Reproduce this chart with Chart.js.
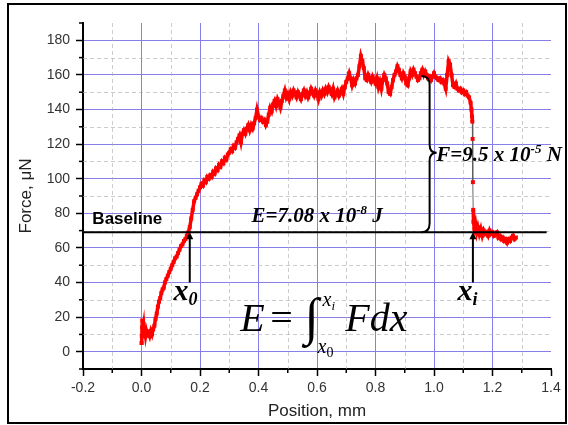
<!DOCTYPE html>
<html>
<head>
<meta charset="utf-8">
<script src="https://cdn.jsdelivr.net/npm/chart.js@4.4.1/dist/chart.umd.min.js"></script>
<style>
  html, body { margin: 0; padding: 0; background: #fff; }
  #wrap { width: 568px; height: 425px; }
</style>
</head>
<body>
<div id="wrap"><canvas id="forceChart" width="568" height="425"></canvas></div>
<script>
// Posición (mm) y fuerza (µN)
const positions = [
  0.000, 0.001, 0.002, 0.003, 0.005, 0.007, 0.009, 0.011, 0.014, 0.017,
  0.020, 0.024, 0.028, 0.032, 0.036, 0.040, 0.044, 0.048, 0.052, 0.056,
  0.060, 0.064, 0.068, 0.072, 0.076, 0.080, 0.085, 0.090, 0.095, 0.100,
  0.105, 0.110, 0.115, 0.120, 0.125, 0.130, 0.135, 0.140, 0.145, 0.150,
  0.155, 0.160, 0.165, 0.170, 0.175, 0.180, 0.185, 0.190, 0.195, 0.200,
  0.205, 0.210, 0.215, 0.220, 0.225, 0.230, 0.235, 0.240, 0.245, 0.250,
  0.255, 0.260, 0.265, 0.270, 0.275, 0.280, 0.285, 0.290, 0.295, 0.300,
  0.305, 0.310, 0.315, 0.320, 0.325, 0.330, 0.335, 0.340, 0.345, 0.350,
  0.355, 0.360, 0.365, 0.370, 0.375, 0.380, 0.385, 0.390, 0.395, 0.400,
  0.405, 0.410, 0.415, 0.420, 0.425, 0.430, 0.435, 0.440, 0.445, 0.450,
  0.455, 0.460, 0.465, 0.470, 0.475, 0.480, 0.485, 0.490, 0.495, 0.500,
  0.505, 0.510, 0.515, 0.520, 0.525, 0.530, 0.535, 0.540, 0.545, 0.550,
  0.555, 0.560, 0.565, 0.570, 0.575, 0.580, 0.585, 0.590, 0.595, 0.600,
  0.605, 0.610, 0.615, 0.620, 0.625, 0.630, 0.635, 0.640, 0.645, 0.650,
  0.655, 0.660, 0.665, 0.670, 0.675, 0.680, 0.685, 0.690, 0.695, 0.700,
  0.705, 0.710, 0.715, 0.720, 0.725, 0.730, 0.735, 0.740, 0.745, 0.750,
  0.755, 0.760, 0.765, 0.770, 0.775, 0.780, 0.785, 0.790, 0.795, 0.800,
  0.805, 0.810, 0.815, 0.820, 0.825, 0.830, 0.835, 0.840, 0.845, 0.850,
  0.855, 0.860, 0.865, 0.870, 0.875, 0.880, 0.885, 0.890, 0.895, 0.900,
  0.905, 0.910, 0.915, 0.920, 0.925, 0.930, 0.935, 0.940, 0.945, 0.950,
  0.955, 0.960, 0.965, 0.970, 0.975, 0.980, 0.985, 0.990, 0.995, 1.000,
  1.005, 1.010, 1.015, 1.020, 1.025, 1.030, 1.035, 1.040, 1.045, 1.050,
  1.055, 1.060, 1.065, 1.070, 1.075, 1.080, 1.085, 1.090, 1.095, 1.100,
  1.105, 1.110, 1.115, 1.120, 1.125, 1.128, 1.130, 1.131, 1.132, 1.133,
  1.134, 1.135, 1.138, 1.142, 1.146, 1.150, 1.155, 1.160, 1.165, 1.170,
  1.175, 1.180, 1.185, 1.190, 1.195, 1.200, 1.205, 1.210, 1.215, 1.220,
  1.225, 1.230, 1.235, 1.240, 1.245, 1.250, 1.255, 1.260, 1.265, 1.270,
  1.275, 1.280
];
const forces = [
  5, 9, 14, 18, 13, 16, 11, 13, 9, 12,
  10, 11, 9, 12, 10, 13, 15, 19, 22, 26,
  29, 31, 34, 36, 37, 40, 42, 44, 46, 48,
  50, 52, 54, 55, 57, 59, 61, 62, 64, 65,
  67, 69, 72, 77, 82, 87, 89, 91, 93, 95,
  97, 96, 99, 98, 101, 100, 102, 101, 104, 103,
  106, 105, 108, 107, 110, 109, 112, 111, 114, 115,
  117, 116, 119, 118, 121, 123, 125, 121, 126, 128,
  126, 129, 131, 128, 131, 129, 132, 135, 140, 136,
  134, 135, 133, 134, 131, 133, 137, 141, 139, 143,
  145, 142, 146, 144, 141, 145, 148, 151, 147, 149,
  146, 150, 148, 151, 149, 147, 150, 148, 146, 149,
  151, 148, 150, 147, 149, 152, 150, 148, 151, 149,
  146, 150, 148, 151, 149, 152, 150, 153, 151, 149,
  152, 147, 149, 151, 148, 150, 152, 149, 153, 156,
  158, 161, 158, 154, 157, 155, 158, 160, 165, 171,
  168, 164, 158, 157, 160, 158, 156, 159, 157, 155,
  158, 153, 156, 152, 157, 160, 158, 155, 150, 149,
  153, 157, 160, 162, 165, 163, 160, 158, 161, 159,
  155, 154, 158, 162, 160, 163, 161, 159, 157, 158,
  161, 163, 160, 162, 160, 158, 159, 157, 159, 161,
  159, 158, 157, 158, 156, 157, 155, 152, 160, 168,
  166, 160, 154, 153, 155, 152, 151, 152, 150, 151,
  149, 150, 148, 147, 144, 140, 136, 133, 123, 98,
  82, 75, 71, 74, 69, 72, 68, 71, 67, 70,
  68, 69, 67, 70, 68, 69, 67, 68, 69, 66,
  67, 65, 66, 64, 65, 63, 65, 64, 66, 67,
  65, 66
];
const xTickValues = [-0.2, 0.0, 0.2, 0.4, 0.6, 0.8, 1.0, 1.2, 1.4];
const yTickValues = [0, 20, 40, 60, 80, 100, 120, 140, 160, 180];
const xMinorValues = [-0.1, 0.1, 0.3, 0.5, 0.7, 0.9, 1.1, 1.3];
const yMinorValues = [-10, 10, 30, 50, 70, 90, 110, 130, 150, 170, 190];
const baselineForce = 69;
const x0Position = 0.165;
const xiPosition = 1.133;

const gridColor = 'rgb(136,126,232)';
const serif = '"Liberation Serif", "Times New Roman", serif';
const sans = '"Liberation Sans", Arial, sans-serif';

// Texto con superíndices/subíndices
function drawRich(ctx, parts, x, y) {
  let cx = x;
  parts.forEach(p => {
    ctx.font = p.font;
    ctx.fillText(p.text, cx, y + (p.dy || 0));
    cx += ctx.measureText(p.text).width;
  });
}

function drawUpArrow(ctx, px, yTop, yBottom) {
  ctx.lineWidth = 2;
  ctx.beginPath();
  ctx.moveTo(px, yBottom);
  ctx.lineTo(px, yTop + 5);
  ctx.stroke();
  ctx.beginPath();
  ctx.moveTo(px, yTop);
  ctx.lineTo(px - 3.5, yTop + 7);
  ctx.lineTo(px + 3.5, yTop + 7);
  ctx.closePath();
  ctx.fill();
}

const annotationPlugin = {
  id: 'annotations',
  beforeDraw(chart) {
    const ctx = chart.ctx;
    ctx.save();
    ctx.fillStyle = '#fff';
    ctx.fillRect(0, 0, chart.width, chart.height);
    ctx.restore();
  },
  beforeDatasetsDraw(chart) {
    const {ctx, chartArea: a, scales: {x, y}} = chart;
    ctx.save();
    ctx.strokeStyle = 'rgba(170,170,170,0.6)';
    ctx.lineWidth = 1;
    ctx.setLineDash([4, 3]);
    xMinorValues.forEach(v => {
      const px = Math.round(x.getPixelForValue(v)) + 0.5;
      ctx.beginPath();
      ctx.moveTo(px, a.top);
      ctx.lineTo(px, a.bottom);
      ctx.stroke();
    });
    yMinorValues.forEach(v => {
      if (v <= -10 || v >= 190) return;
      const py = Math.round(y.getPixelForValue(v)) + 0.5;
      ctx.beginPath();
      ctx.moveTo(a.left, py);
      ctx.lineTo(a.right, py);
      ctx.stroke();
    });
    ctx.restore();
  },
  afterDraw(chart) {
    const {ctx, chartArea: a, scales: {x, y}} = chart;
    const px = v => x.getPixelForValue(v);
    const py = v => y.getPixelForValue(v);
    ctx.save();

    // marcas menores
    ctx.strokeStyle = '#000';
    ctx.lineWidth = 1.5;
    xMinorValues.forEach(v => {
      ctx.beginPath();
      ctx.moveTo(px(v), a.bottom);
      ctx.lineTo(px(v), a.bottom + 4);
      ctx.stroke();
    });
    yMinorValues.forEach(v => {
      ctx.beginPath();
      ctx.moveTo(a.left, py(v));
      ctx.lineTo(a.left - 4, py(v));
      ctx.stroke();
    });

    // línea base
    ctx.lineWidth = 2;
    ctx.beginPath();
    ctx.moveTo(a.left, py(baselineForce));
    ctx.lineTo(px(1.385), py(baselineForce));
    ctx.stroke();

    ctx.fillStyle = '#000';
    ctx.textAlign = 'left';
    ctx.textBaseline = 'alphabetic';
    ctx.font = 'bold 17px ' + sans;
    ctx.fillText('Baseline', px(-0.168), py(73.8));

    // flechas x0 y xi
    drawUpArrow(ctx, px(x0Position), py(baselineForce), py(40));
    drawUpArrow(ctx, px(xiPosition), py(baselineForce), py(40));
    drawRich(ctx, [
      {text: 'x', font: 'bold italic 30px ' + serif},
      {text: '0', font: 'bold italic 18px ' + serif, dy: 5}
    ], px(0.109), py(29.7));
    drawRich(ctx, [
      {text: 'x', font: 'bold italic 30px ' + serif},
      {text: 'i', font: 'bold italic 18px ' + serif, dy: 5}
    ], px(1.08), py(29.7));

    // energía y fuerza
    const eFont = 'bold italic 21px ' + serif;
    drawRich(ctx, [
      {text: 'E=7.08 x 10', font: eFont},
      {text: '-8', font: 'bold italic 13px ' + serif, dy: -8},
      {text: ' J', font: eFont}
    ], px(0.376), py(75));
    const fFont = 'bold italic 21px ' + serif;
    drawRich(ctx, [
      {text: 'F=9.5 x 10', font: fFont},
      {text: '-5', font: 'bold italic 13px ' + serif, dy: -8},
      {text: ' N', font: fFont}
    ], px(1.008), py(110.5));

    // llave
    const bx0 = px(0.957), bx1 = px(0.985), bx2 = px(1.009);
    const bTop = py(159.3), bMid = py(115), bBot = py(baselineForce);
    ctx.lineWidth = 2;
    ctx.beginPath();
    ctx.moveTo(bx0, bTop);
    ctx.quadraticCurveTo(bx1, bTop, bx1, bTop + 9);
    ctx.lineTo(bx1, bMid - 8);
    ctx.quadraticCurveTo(bx1, bMid, bx2, bMid);
    ctx.quadraticCurveTo(bx1, bMid, bx1, bMid + 8);
    ctx.lineTo(bx1, bBot - 9);
    ctx.quadraticCurveTo(bx1, bBot, bx0, bBot);
    ctx.stroke();

    // fórmula E = ∫ F dx
    ctx.font = 'italic 40px ' + serif;
    ctx.fillText('E', px(0.338), py(12.2));
    ctx.font = '40px ' + serif;
    ctx.fillText('=', px(0.44), py(12.2));
    ctx.textAlign = 'center';
    ctx.textBaseline = 'middle';
    ctx.font = '52px ' + serif;
    ctx.fillText('\u222B', px(0.582), py(18));
    ctx.textAlign = 'left';
    ctx.textBaseline = 'alphabetic';
    drawRich(ctx, [
      {text: 'x', font: 'italic 20px ' + serif},
      {text: 'i', font: 'italic 13px ' + serif, dy: 4}
    ], px(0.619), py(26.7));
    drawRich(ctx, [
      {text: 'x', font: 'italic 20px ' + serif},
      {text: '0', font: '14px ' + serif, dy: 4}
    ], px(0.602), py(-0.6));
    ctx.font = 'italic 40px ' + serif;
    ctx.fillText('Fdx', px(0.697), py(12.2));

    // marco
    ctx.strokeStyle = '#000';
    ctx.lineWidth = 2;
    ctx.strokeRect(8, 4, 558, 419);
    ctx.restore();
  }
};

const ctx = document.getElementById('forceChart').getContext('2d');
const forceChart = new Chart(ctx, {
  type: 'scatter',
  data: {
    datasets: [{
      label: 'Force',
      data: positions.map((p, i) => ({x: p, y: forces[i]})),
      showLine: true,
      borderColor: 'rgb(255,0,0)',
      borderWidth: 3.5,
      backgroundColor: 'rgb(255,0,0)',
      pointStyle: 'rect',
      pointRadius: 2.8,
      pointBorderWidth: 0,
      pointHoverRadius: 2.8,
      segment: {
        borderColor: c => Math.abs(c.p1.y - c.p0.y) > 15 ? 'rgba(90,90,90,0.9)' : 'rgb(255,0,0)',
        borderWidth: c => Math.abs(c.p1.y - c.p0.y) > 15 ? 1 : 3.5
      }
    }]
  },
  options: {
    responsive: false,
    animation: false,
    devicePixelRatio: 1,
    layout: { padding: { left: 0, top: 23, right: 17, bottom: 0 } },
    plugins: {
      legend: { display: false },
      tooltip: { enabled: false }
    },
    scales: {
      x: {
        type: 'linear',
        min: -0.2,
        max: 1.4,
        afterFit: scale => { scale.height = 56; },
        afterBuildTicks: scale => { scale.ticks = xTickValues.map(v => ({value: v})); },
        ticks: {
          autoSkip: false,
          maxRotation: 0,
          padding: 4,
          color: '#333',
          font: { family: sans, size: 14 },
          callback: v => Number(v).toFixed(1)
        },
        grid: {
          color: c => (c.tick && (c.tick.value <= -0.19 || c.tick.value >= 1.39)) ? 'rgba(0,0,0,0)' : gridColor,
          lineWidth: 1,
          tickColor: '#000',
          tickLength: 7,
          tickWidth: 1.5
        },
        border: { color: '#000', width: 2 },
        title: {
          display: true,
          text: 'Position, mm',
          color: '#222',
          font: { family: sans, size: 17 },
          padding: { top: 0, bottom: 3 }
        }
      },
      y: {
        type: 'linear',
        min: -10,
        max: 190,
        afterFit: scale => { scale.width = 83; },
        afterBuildTicks: scale => { scale.ticks = yTickValues.map(v => ({value: v})); },
        ticks: {
          autoSkip: false,
          padding: 6,
          color: '#333',
          font: { family: sans, size: 14 },
          callback: v => String(v)
        },
        grid: {
          color: gridColor,
          lineWidth: 1,
          tickColor: '#000',
          tickLength: 7,
          tickWidth: 1.5
        },
        border: { color: '#000', width: 2 },
        title: {
          display: true,
          text: 'Force, \u03BCN',
          color: '#222',
          font: { family: sans, size: 17 },
          padding: { top: 16, bottom: 0 }
        }
      }
    }
  },
  plugins: [annotationPlugin]
});
</script>
</body>
</html>
